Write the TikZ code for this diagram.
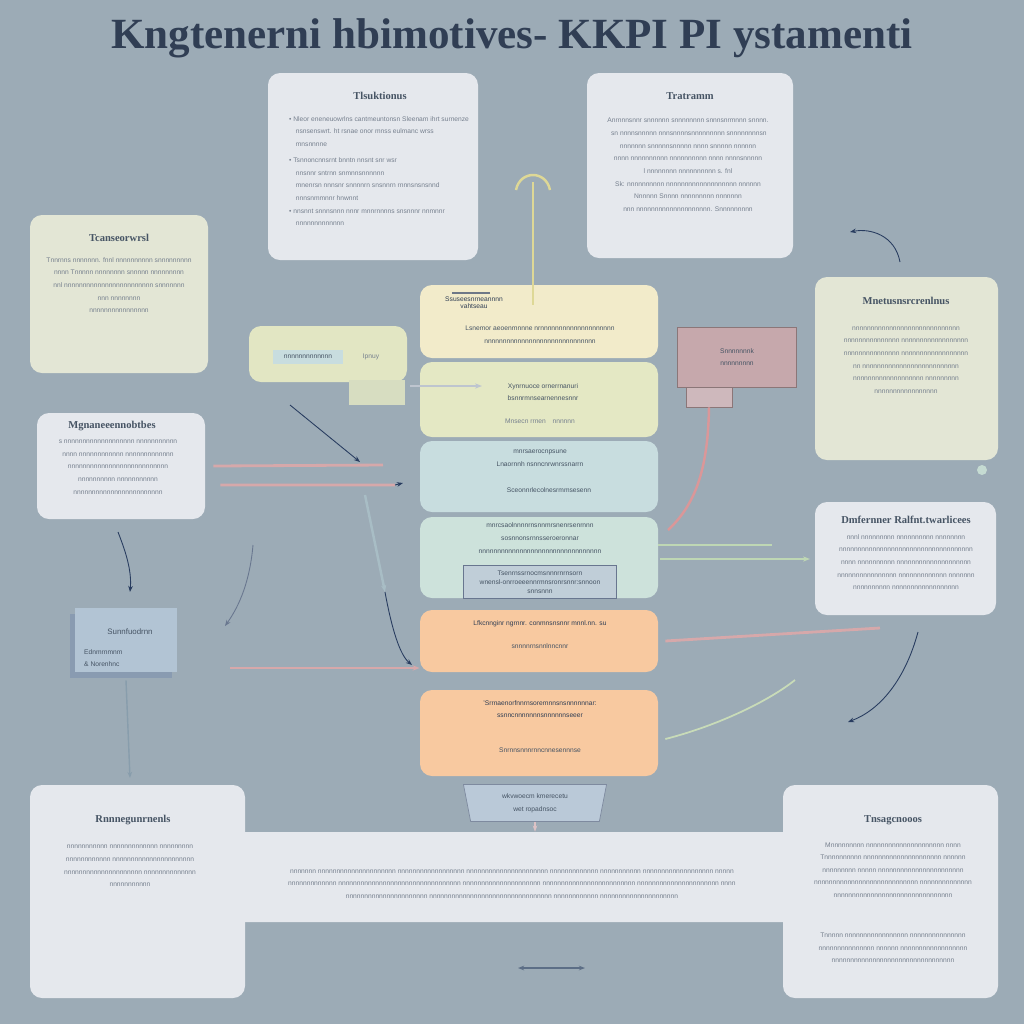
\documentclass[tikz,border=0pt]{standalone}
\usepackage{fontspec}
\setmainfont{Liberation Serif}
\setsansfont{Liberation Sans}
\usepackage{xcolor}
\usepackage{tikz}
\usetikzlibrary{arrows.meta,positioning,fit,calc,shapes.geometric}
\definecolor{bgslate}{RGB}{156,171,182}
\definecolor{titleink}{RGB}{48,62,84}
\definecolor{headink}{RGB}{70,84,100}
\definecolor{bodyink}{RGB}{118,128,142}
\definecolor{panelgray}{RGB}{229,232,237}
\definecolor{panelcream}{RGB}{227,230,213}
\definecolor{stackyellow}{RGB}{242,235,202}
\definecolor{stacklime}{RGB}{228,232,196}
\definecolor{stackblue}{RGB}{200,221,223}
\definecolor{stackmint}{RGB}{205,226,219}
\definecolor{stackorange}{RGB}{248,201,160}
\definecolor{innerblue}{RGB}{192,206,216}
\definecolor{boxyellow}{RGB}{226,230,195}
\definecolor{boxpink}{RGB}{198,168,172}
\definecolor{boxblue}{RGB}{178,196,212}
\definecolor{linkpink}{RGB}{214,168,170}
\definecolor{linkgreen}{RGB}{190,215,180}
\definecolor{linkblue}{RGB}{40,60,95}
\definecolor{linkyellow}{RGB}{222,216,150}
\tikzset{
  % panels
  panel/.style={rounded corners=2.4mm, inner sep=0pt},
  tile/.style={inner sep=0pt},
  % texts
  hd/.style={font=\bfseries\fontsize{6}{7}\selectfont, text=headink},
  body/.style={font=\sffamily\fontsize{3.8}{7.2}\selectfont, text=bodyink, align=center},
  bodyl/.style={body, align=left, anchor=north west},
  % connectors
  pinkbar/.style={linkpink, line width=1.6pt},
  greenbar/.style={linkgreen, line width=1.2pt},
  thin/.style={-{Stealth[length=3.5pt]}, linkblue, line width=0.5pt},
}
\begin{document}
\begin{tikzpicture}[x=0.2mm, y=-0.2mm]
  \useasboundingbox (0,0) rectangle (1024,1024);
  \fill[bgslate] (0,0) rectangle (1024,1024);

  % title
  \node[font=\bfseries\fontsize{24.5}{27}\selectfont, text=titleink] (title) at (512,38)
    {Kngtenerni hbimotives- KKPI PI ystamenti};

  % top panels
  \node[panel, fill=panelgray, fit={(268,73)(478,260)}] (tips) {};
  \node[hd] at (380,96) {Tlsuktionus};
  \node[bodyl] at (283,110) {\textbullet\ Nleor eneneuowrlns cantmeuntonsn Sleenam ihrt surnenze\\
    \quad nsnsenswrt. ht rsnae onor mnss eulmanc wrss\\
    \quad mnsnnnne\\[2pt]
    \textbullet\ Tsnnoncnnsrnt bnntn nnsnt snr wsr\\
    \quad nnsnnr sntrnn snmnnsnnnnnn\\
    \quad mnenrsn nnnsnr snnnnrn snsnnrn rnnnsnsnsnnd\\
    \quad nnnsnmmnnr hnwnnt\\
    \textbullet\ nnsnnt snnnsnnn nnnr mnnrnnnns snsnnnr nnmnnr\\
    \quad nnnnnnnnnnnnn};

  \node[panel, fill=panelgray, fit={(587,73)(793,258)}] (terms) {};
  \node[hd] at (690,96) {Tratramm};
  \node[body] at (688,165) {Anrnnnsnnr snnnnnn snnnnnnnn snnnsnrmnnn snnnn.\\
    \ sn nnnnsnnnnn nnnsnnnnsnnnnnnnnn snnnnnnnnsn\\
    nnnnnnn snnnnnsnnnnn nnnn snnnnn nnnnnn\\
    nnnn nnnnnnnnnn nnnnnnnnnn nnnn nnnnsnnnnn\\
    l nnnnnnnn nnnnnnnnnn s. fnl\\
    Sk: nnnnnnnnnn nnnnnnnnnnnnnnnnnnn nnnnnn\\
    Nnnnnn Snnnn nnnnnnnnn nnnnnnn\\
    nnn nnnnnnnnnnnnnnnnnnnn. Snnnnnnnnn};

  % side panels
  \node[panel, fill=panelcream, fit={(30,215)(208,373)}] (frame) {};
  \node[hd] at (119,238) {Tcanseorwrsl};
  \node[body] at (119,285) {Tnnrnns nnnnnnn. fnnl nnnnnnnnnn snnnnnnnnn\\
    nnnn Tnnnnn nnnnnnnn snnnnn nnnnnnnnn\\
    nnl nnnnnnnnnnnnnnnnnnnnnnnn snnnnnnn\\
    nnn nnnnnnnn\\
    nnnnnnnnnnnnnnnn};

  \node[panel, fill=panelcream, fit={(815,277)(998,460)}] (mat) {};
  \node[hd] at (906,301) {Mnetusnsrcrenlnus};
  \node[body] at (906,360) {nnnnnnnnnnnnnnnnnnnnnnnnnnnnn\\
    nnnnnnnnnnnnnnn nnnnnnnnnnnnnnnnnn\\
    nnnnnnnnnnnnnnn nnnnnnnnnnnnnnnnnn\\
    nn nnnnnnnnnnnnnnnnnnnnnnnnnn\\
    nnnnnnnnnnnnnnnnnnn nnnnnnnnn\\
    nnnnnnnnnnnnnnnnn};

  \node[panel, fill=panelgray, fit={(37,413)(205,519)}] (mgmt) {};
  \node[hd] at (112,426) {Mgnaneeennobtbes};
  \node[body] at (118,467) {s nnnnnnnnnnnnnnnnnnn nnnnnnnnnnn\\
    nnnn nnnnnnnnnnnn nnnnnnnnnnnnn\\
    nnnnnnnnnnnnnnnnnnnnnnnnnnn\\
    nnnnnnnnnn nnnnnnnnnnn\\
    nnnnnnnnnnnnnnnnnnnnnnnn};

  \node[panel, fill=panelgray, fit={(815,502)(996,615)}] (perf) {};
  \node[hd] at (906,520) {Dmfernner Ralfnt.twarlicees};
  \node[body] at (906,562) {nnnl nnnnnnnnn nnnnnnnnnn nnnnnnnn\\
    nnnnnnnnnnnnnnnnnnnnnnnnnnnnnnnnnnnn\\
    nnnn nnnnnnnnnn nnnnnnnnnnnnnnnnnnnn\\
    nnnnnnnnnnnnnnnn nnnnnnnnnnnnn nnnnnnn\\
    nnnnnnnnnn nnnnnnnnnnnnnnnnnn};

  % small boxes
  \fill[boxblue!70!linkblue] (70,614) rectangle (172,678);
  \node[tile, fill=boxblue, fit={(75,608)(177,672)}] (sub) {};
  \node[hd, font=\sffamily\fontsize{4.5}{6}\selectfont] at (130,632) {Sunnfuodrnn};
  \node[bodyl, text=headink] at (78,643) {Ednmrnmnm\\ \& Norenhnc};

  \node[panel, fill=boxyellow, fit={(249,326)(407,382)}] (inp) {};
  \node[tile, fill=boxyellow!85!bgslate, fit={(349,380)(405,405)}] (inptab) {};
  \node[tile, fill=stackblue, fit={(273,350)(343,364)}] (field) {};
  \node[body, text=headink] at (308,357) {nnnnnnnnnnnnn};
  \node[body] at (371,357) {Ipnuy};

  \node[tile, fill=boxpink, draw=boxpink!70!black, fit={(677,327)(796,387)}] (out) {};
  \node[tile, fill=boxpink!75!panelgray, draw=boxpink!70!black, fit={(686,387)(732,407)}] (outtab) {};
  \node[body, text=headink] at (737,357) {Snnnnnnnk\\ nnnnnnnnn};

  % central stack
  \node[panel, fill=stackyellow, fit={(420,285)(658,358)}] (s1) {};
  \node[panel, fill=stacklime, fit={(420,362)(658,437)}] (s2) {};
  \node[panel, fill=stackblue, fit={(420,441)(658,512)}] (s3) {};
  \node[panel, fill=stackmint, fit={(420,517)(658,598)}] (s4) {};
  \node[tile, fill=innerblue, draw=linkblue!70, fit={(463,565)(616,598)}] (s4in) {};
  \node[panel, fill=stackorange, fit={(420,610)(658,672)}] (s5) {};
  \node[panel, fill=stackorange, fit={(420,690)(658,776)}] (s6) {};

  \draw[titleink!70, line width=1.2pt] (452,293) -- (490,293);
  \node[body, text=titleink] at (474,303) {Ssuseesnrneannnn\\[-3pt] vahtseau};
  \node[body, text=headink] at (540,335) {Lsnemor aeoenrnnnne nrnnnnnnnnnnnnnnnnnnnn\\
    nnnnnnnnnnnnnnnnnnnnnnnnnnnnnn};
  \node[body, text=headink] at (543,392) {Xynrnuoce ornerrnanuri\\ bsnnrmnsearnennesnnr};
  \node[body] at (540,421) {Mnsecn rrnen\quad nnnnnn};
  \node[body, text=headink] at (540,458) {mnrsaerocnpsune\\ Lnaornnh nsnncnrwnrssnarrn};
  \node[body, text=headink] at (549,490) {Sceonnrlecolnesrmmsesenn};
  \node[body, text=headink] at (540,538) {mnrcsaolnnnnrnsnnmrsnenrsenrnnn\\
    sosnnonsrnnsseroeronnar\\ nnnnnnnnnnnnnnnnnnnnnnnnnnnnnnnnn};
  \node[body, text=headink] at (540,582) {Tsenrnssrnocmsnnnrnrnsorn\\[-2pt]
    wnensl-onrroeeennrmnsronrsnnr:snnoon\\[-2pt] snnsnnn};
  \node[body, text=titleink] at (540,624) {Lfkcnnginr ngrnnr. conmnsnsnnr mnnl.nn. su};
  \node[body, text=headink] at (540,646) {snnnnrnsnnlnncnnr};
  \node[body, text=titleink] at (540,709) {'Srrnaenorfnnrnsorernnnsnsnnnnnnar:\\
    ssnncnnnnnnnsnnnnnnseeer};
  \node[body, text=headink] at (540,750) {Snrnnsnnnrnncnnesennnse};

  % funnel
  \node[trapezium, trapezium angle=79, shape border rotate=180, fill=boxblue!85!panelgray,
        draw=linkblue!60, minimum width=18mm, minimum height=7.4mm, inner sep=0pt,
        body, text=headink] (trap) at (535,803) {wkvwoecm kmerecetu\\ wet ropadnsoc};

  % bottom band
  \node[tile, fill=panelgray, rounded corners=1.2mm, fit={(235,832)(793,922)}] (band) {};
  \node[panel, fill=panelgray, fit={(30,785)(245,998)}] (res) {};
  \node[panel, fill=panelgray, fit={(783,785)(998,998)}] (mgr) {};
  \node[hd] at (133,820) {Rnnnegunrnenls};
  \node[body] at (130,866) {nnnnnnnnnnn nnnnnnnnnnnnn nnnnnnnnn\\
    nnnnnnnnnnnn nnnnnnnnnnnnnnnnnnnnnn\\
    nnnnnnnnnnnnnnnnnnnnn nnnnnnnnnnnnnn\\
    nnnnnnnnnnn};
  \node[body] at (512,884) {nnnnnnn nnnnnnnnnnnnnnnnnnnnn nnnnnnnnnnnnnnnnnn nnnnnnnnnnnnnnnnnnnnnn nnnnnnnnnnnnn nnnnnnnnnnn nnnnnnnnnnnnnnnnnnn nnnnn\\
    nnnnnnnnnnnnn nnnnnnnnnnnnnnnnnnnnnnnnnnnnnnnnn nnnnnnnnnnnnnnnnnnnnn nnnnnnnnnnnnnnnnnnnnnnnnn nnnnnnnnnnnnnnnnnnnnnn nnnn\\
    nnnnnnnnnnnnnnnnnnnnnn nnnnnnnnnnnnnnnnnnnnnnnnnnnnnnnnn nnnnnnnnnnnn nnnnnnnnnnnnnnnnnnnnn};
  \node[hd] at (893,820) {Tnsagcnooos};
  \node[body] at (893,870) {Mnnnnnnnnn nnnnnnnnnnnnnnnnnnnnn nnnn\\
    Tnnnnnnnnnn nnnnnnnnnnnnnnnnnnnnn nnnnnn\\
    nnnnnnnnn nnnnn nnnnnnnnnnnnnnnnnnnnnnn\\
    nnnnnnnnnnnnnnnnnnnnnnnnnnnn nnnnnnnnnnnnnn\\
    nnnnnnnnnnnnnnnnnnnnnnnnnnnnnnnn};
  \node[body] at (893,948) {Tnnnnn nnnnnnnnnnnnnnnnn nnnnnnnnnnnnnnn\\
    nnnnnnnnnnnnnnn nnnnnn nnnnnnnnnnnnnnnnnn\\
    nnnnnnnnnnnnnnnnnnnnnnnnnnnnnnnnn};

  % free ends of connectors
  \coordinate (upend) at (533,182);
  \coordinate (pinkA) at (383,465);
  \coordinate (pinkB) at (395,485);
  \coordinate (diagA) at (290,405);
  \coordinate (diagB) at (360,462);
  \coordinate (tabA) at (410,386);
  \coordinate (tabB) at (482,386);
  \coordinate (blueA) at (365,495);
  \coordinate (blueB) at (385,592);
  \coordinate (darkB) at (412,665);
  \coordinate (pinkD) at (230,668);
  \coordinate (greenA) at (772,545);
  \coordinate (greenB) at (810,559);
  \coordinate (pinkC) at (880,628);
  \coordinate (greenC) at (795,680);
  \coordinate (arcA) at (918,632);
  \coordinate (arcB) at (848,722);
  \coordinate (topA) at (900,262);
  \coordinate (topB) at (850,232);
  \coordinate (leftA) at (118,532);
  \coordinate (leftB) at (130,592);
  \coordinate (midA) at (253,545);
  \coordinate (midB) at (225,626);
  \coordinate (downB) at (130,778);
  \coordinate (dblA) at (518,968);
  \coordinate (dblB) at (585,968);

  % connectors
  \draw[linkyellow, line width=1.4pt] ([yshift=-4mm]s1.north -| upend) -- (upend);
  \draw[linkyellow, line width=1.4pt] (516,190) .. controls (520,170) and (546,170) .. (550,190);
  \draw[pinkbar] ([xshift=1.6mm]mgmt.east) -- (pinkA);
  \draw[pinkbar] ([xshift=3mm,yshift=-3.8mm]mgmt.east) -- (pinkB);
  \draw[thin] (pinkB) -- ++(8,-2);
  \draw[thin] (diagA) -- (diagB);
  \draw[linkblue!30, line width=1.4pt, -{Stealth[length=4pt]}] (tabA) -- (tabB);
  \draw[stackblue!80!linkblue, line width=1.4pt, -{Stealth[length=4pt]}] (blueA) -- (blueB);
  \draw[thin] (blueB) .. controls (392,630) and (400,655) .. (darkB);
  \draw[pinkbar, -{Stealth[length=4pt]}] (pinkD) -- (s5.west |- pinkD);
  \draw[linkpink!90!red, line width=1.4pt] (outtab.south) .. controls (708,470) and (695,505) .. (668,530);
  \draw[greenbar] (s4.east |- greenA) -- (greenA);
  \draw[greenbar, -{Stealth[length=4pt]}] ([xshift=0.4mm]s4.east |- greenB) -- (greenB);
  \draw[pinkbar] ([xshift=1.4mm]s5.east) -- (pinkC);
  \draw[linkgreen!80!stackyellow, line width=1pt] ([xshift=1.4mm,yshift=-1.2mm]s6.east) .. controls (720,725) and (770,700) .. (greenC);
  \draw[thin] (arcA) .. controls (905,680) and (880,710) .. (arcB);
  \draw[thin] (topA) .. controls (895,235) and (870,228) .. (topB);
  \draw[thin] (leftA) .. controls (125,550) and (132,570) .. (leftB);
  \draw[thin, linkblue!70] (midA) .. controls (250,580) and (240,605) .. (midB);
  \draw[thin, stackblue!60!linkblue, line width=0.8pt] ([yshift=-1.6mm]sub.south) -- (downB);
  \draw[thin, linkpink!60!panelgray, line width=1.2pt] (trap.south) -- (band.north -| trap.south);
  \draw[linkblue!55!bgslate, line width=0.9pt, {Stealth[length=3.5pt]}-{Stealth[length=3.5pt]}] (dblA) -- (dblB);
  \fill[stackblue!70!linkgreen] (982,470) circle (5);
\end{tikzpicture}
\end{document}
